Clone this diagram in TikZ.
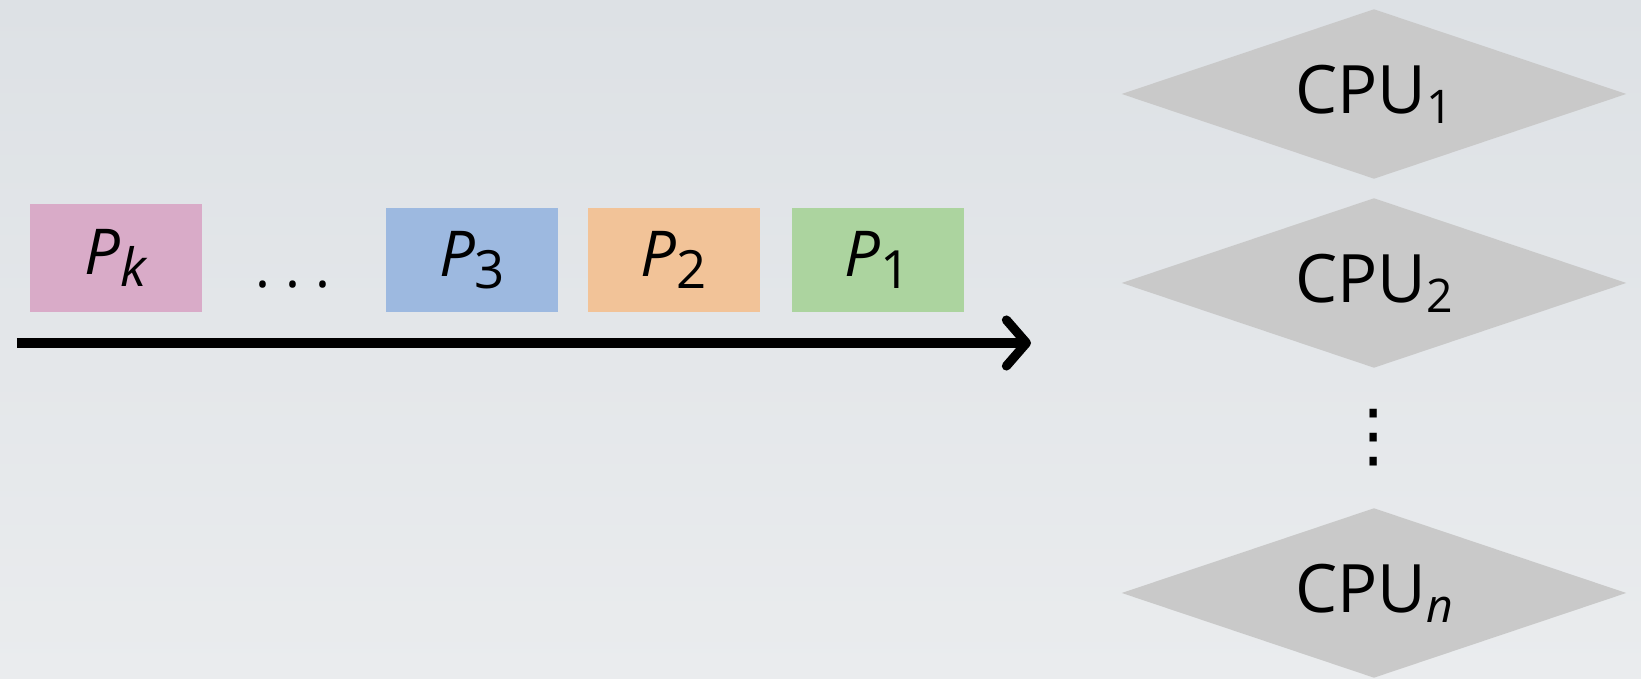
\documentclass[tikz,border=0pt]{standalone}
\usepackage{tikz}
\usepackage{fontspec}
\setmainfont{Open Sans}
\newfontfamily\symfont{DejaVu Sans}
\definecolor{bgtop}{HTML}{DDE1E5}
\definecolor{bgbottom}{HTML}{EAECEE}
\definecolor{pkcolor}{HTML}{D9ABC8}
\definecolor{pthree}{HTML}{9DB9E0}
\definecolor{ptwo}{HTML}{F2C398}
\definecolor{pone}{HTML}{ACD49F}
\definecolor{cpucolor}{HTML}{C9C9C9}
\usetikzlibrary{arrows.meta,shapes.geometric,positioning}
\newcommand{\procidx}[1]{\raisebox{-3.4pt}{\fontsize{15}{15}\selectfont #1}}
\newcommand{\cpuidx}[1]{\raisebox{-2.8pt}{\fontsize{13.2}{13.2}\selectfont #1}}
\newcommand{\proc}[1]{\textit{P}\procidx{#1}}
\tikzset{
	proc/.style={
		rectangle,
		inner sep=0pt,
		minimum width=1.72cm,
		minimum height=1.04cm,
		font=\fontsize{18}{18}\selectfont,
		text centered
	},
	cpu/.style={
		diamond,
		aspect=3,
		inner sep=0pt,
		fill=cpucolor,
		minimum width=5.05cm,
		minimum height=1.70cm,
		font=\fontsize{19}{19}\selectfont
	},
	dotsnode/.style={
		inner sep=0pt,
		font=\fontsize{16}{16}\selectfont
	},
	arrow/.style={
		line width=2.6pt,
		-{Straight Barb[length=2mm,width=4.6mm,round]}
	},
}
\begin{document}
\begin{tikzpicture}[node distance=2.04cm,on grid]
	\shade[top color=bgtop,bottom color=bgbottom] (0,0) rectangle (16.41,6.79);
	\useasboundingbox (0,0) rectangle (16.41,6.79);
	% queue of processes
	\node[proc,fill=pone] (p1) at (8.775,4.19) {\proc{1}};
	\node[proc,fill=ptwo] (p2) [left=of p1] {\proc{2}};
	\node[proc,fill=pthree] (p3) [left=2.015cm of p2] {\proc{3}};
	\node[proc,fill=pkcolor,minimum height=1.08cm] (pk) [left=3.56cm of p3,yshift=0.02cm] {\proc{\textit{k}}};
	\node[dotsnode,anchor=base] (hdots) at (2.93,3.91) {.\ .\ .};
	\coordinate (qstart) at (0.17,3.36);
	\coordinate (qend) at (10.31,3.36);
	\draw[arrow] (qstart) -- (qend);
	% processors
	\node[cpu] (cpu1) at (13.74,5.85) {CPU\cpuidx{1}};
	\node[cpu] (cpu2) [below=1.89cm of cpu1] {CPU\cpuidx{2}};
	\node[dotsnode,font=\symfont\fontsize{20}{20}\selectfont] (vdots) [below=1.55cm of cpu2] {⋮};
	\node[cpu] (cpun) [below=1.55cm of vdots] {CPU\cpuidx{\textit{n}}};
\end{tikzpicture}
\end{document}
